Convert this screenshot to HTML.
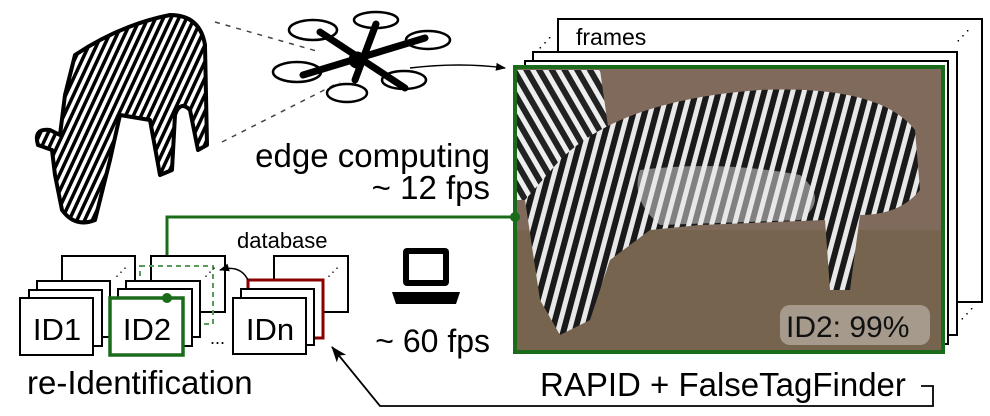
<!DOCTYPE html>
<html><head><meta charset="utf-8"><style>
html,body{margin:0;padding:0;background:#fff;}
svg{display:block;font-family:"Liberation Sans",sans-serif;}
</style></head><body>
<svg width="990" height="416" viewBox="0 0 990 416" xmlns="http://www.w3.org/2000/svg">
<defs>
<pattern id="zs" width="7" height="7" patternUnits="userSpaceOnUse" patternTransform="rotate(25)">
<rect width="7" height="7" fill="#fff"/><rect width="3.5" height="7" fill="#000"/></pattern>
<pattern id="ps" width="11" height="11" patternUnits="userSpaceOnUse" patternTransform="rotate(15)">
<rect width="11" height="11" fill="#e8e8e8"/><rect width="6" height="11" fill="#1a1a1a"/></pattern>
<pattern id="ps2" width="11" height="11" patternUnits="userSpaceOnUse" patternTransform="rotate(-30)">
<rect width="11" height="11" fill="#eee"/><rect width="6" height="11" fill="#222"/></pattern>
<marker id="ah" markerWidth="10" markerHeight="10" refX="9" refY="5" orient="auto" markerUnits="userSpaceOnUse"><path d="M0,1 L10,5 L0,9 z" fill="#000"/></marker>
<marker id="ah2" markerWidth="16" markerHeight="14" refX="15" refY="7" orient="auto" markerUnits="userSpaceOnUse"><path d="M0,1 L16,7 L0,13 L4,7 z" fill="#000"/></marker>
</defs>

<g stroke="#000" stroke-width="4" stroke-linejoin="round">
<path d="M75,55 Q120,25 170,15 Q200,15 205,45 L207,145 L198,150 L190,110 Q180,100 175,115 L172,170 L160,175 L150,120 L120,115 L110,160 L95,220 Q75,228 62,210 L55,175 L52,150 L38,145 Q33,128 50,130 L60,135 L65,95 Z" fill="url(#zs)"/>
</g>
<line x1="215" y1="22" x2="320" y2="52" stroke="#444" stroke-width="1.5" stroke-dasharray="5,6"/>
<line x1="222" y1="142" x2="340" y2="82" stroke="#444" stroke-width="1.5" stroke-dasharray="5,6"/>

<g stroke="#000" fill="none">
<g stroke-width="7" stroke-linecap="round">
<line x1="320" y1="32" x2="405" y2="88"/>
<line x1="303" y1="75" x2="425" y2="38"/>
<line x1="376" y1="24" x2="355" y2="80"/>
</g>
<circle cx="357" cy="60" r="8" fill="#000"/>
<g stroke-width="2.5">
<ellipse cx="313" cy="30" rx="24" ry="10"/>
<ellipse cx="376" cy="20" rx="22" ry="8"/>
<ellipse cx="428" cy="40" rx="22" ry="9"/>
<ellipse cx="297" cy="72" rx="24" ry="10"/>
<ellipse cx="404" cy="80" rx="22" ry="9"/>
<ellipse cx="347" cy="93" rx="20" ry="9"/>
</g>
</g>
<path d="M410,68 Q460,62 505,68" stroke="#000" stroke-width="1.5" fill="none" marker-end="url(#ah)"/>

<g stroke="#000" stroke-width="2" fill="#fff">
<rect x="558" y="19" width="424" height="283"/>
<rect x="533" y="52" width="424" height="283"/>
<rect x="525" y="61" width="423" height="283"/>
</g>
<text x="576" y="45" font-size="23">frames</text>
<text x="538" y="47" font-size="14">⋰</text>
<text x="956" y="40" font-size="14">⋰</text>
<text x="960" y="318" font-size="14">⋰</text>

<rect x="515" y="67" width="428" height="285" fill="#7f6a5c"/>
<rect x="515" y="230" width="428" height="122" fill="#76644f"/>
<path d="M517,70 L600,70 L610,140 L560,200 L517,200 Z" fill="url(#ps2)"/>
<path d="M560,160 Q620,100 760,90 Q880,85 915,130 L920,190 Q900,215 860,215 L850,290 L830,290 L825,220 L700,225 L650,230 L610,260 L590,320 L560,335 L540,300 L525,200 Z" fill="url(#ps)"/>
<path d="M640,170 Q720,160 800,175 Q830,200 800,220 L660,225 Q630,200 640,170Z" fill="#e8e8e8" opacity="0.5"/>
<rect x="515" y="67" width="428" height="285" fill="none" stroke="#1a6b1a" stroke-width="4"/>
<rect x="780" y="305" width="150" height="40" rx="10" fill="#fff" opacity="0.35"/>
<text x="786" y="337" font-size="30" fill="#111">ID2: 99%</text>

<text x="490" y="167" font-size="33" text-anchor="end">edge computing</text>
<text x="490" y="199" font-size="33" text-anchor="end">~ 12 fps</text>

<rect x="403" y="248" width="46" height="38" rx="4" fill="#000"/>
<rect x="409" y="254" width="34" height="26" fill="#fff"/>
<path d="M392,292 L460,292 L456,304 L396,304 Z" fill="#000"/>
<text x="490" y="352" font-size="32" text-anchor="end">~ 60 fps</text>

<path d="M515,217 L167,217 L167,298" stroke="#1a6b1a" stroke-width="3" fill="none"/>
<circle cx="515" cy="217" r="5" fill="#1a6b1a"/>

<text x="237" y="248" font-size="22">database</text>
<g stroke="#000" stroke-width="2" fill="#fff">
<rect x="62" y="256" width="73" height="56"/>
<rect x="37" y="281" width="73" height="56"/>
<rect x="29" y="290" width="73" height="56"/>
<rect x="20" y="298" width="73" height="57"/>
<rect x="151" y="256" width="74" height="56"/>
</g>
<rect x="140" y="266" width="73" height="58" fill="none" stroke="#5a9a5a" stroke-width="2" stroke-dasharray="5,4"/>
<g stroke="#000" stroke-width="2" fill="#fff">
<rect x="126" y="281" width="74" height="56"/>
<rect x="118" y="289" width="74" height="57"/>
<rect x="274" y="256" width="74" height="56"/>
<rect x="248" y="280" width="75" height="58" stroke="#8b0000" stroke-width="3"/>
<rect x="241" y="289" width="73" height="56"/>
<rect x="233" y="298" width="73" height="56"/>
</g>
<rect x="110" y="298" width="73" height="57" fill="#fff" stroke="#1a6b1a" stroke-width="3.5"/>
<circle cx="167" cy="298" r="5" fill="#1a6b1a"/>
<text x="115" y="276" font-size="12">⋰</text>
<text x="204" y="276" font-size="12">⋰</text>
<text x="327" y="276" font-size="12">⋰</text>
<path d="M248,280 Q240,264 220,270" stroke="#000" stroke-width="1.5" fill="none" marker-end="url(#ah)"/>
<text x="57" y="340" font-size="31" text-anchor="middle">ID1</text>
<text x="147" y="340" font-size="31" text-anchor="middle">ID2</text>
<text x="270" y="340" font-size="31" text-anchor="middle">IDn</text>
<text x="210" y="344" font-size="18">...</text>
<text x="27" y="394" font-size="33">re-Identification</text>

<text x="540" y="396" font-size="33">RAPID + FalseTagFinder</text>
<path d="M921,386 L933,386 L933,406 L380,406 L332,347" stroke="#000" stroke-width="1.8" fill="none" marker-end="url(#ah2)"/>
</svg>
</body></html>
